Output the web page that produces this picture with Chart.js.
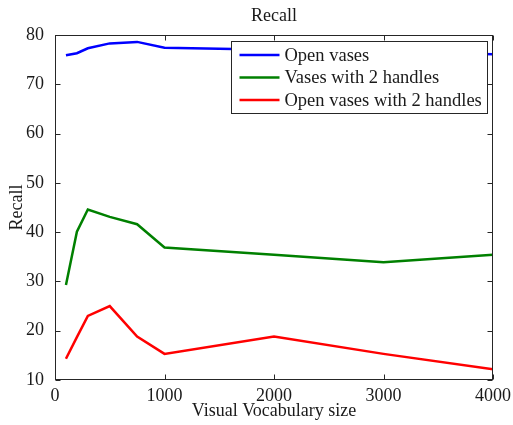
<!DOCTYPE html>
<html>
<head>
<meta charset="utf-8">
<script src="https://cdn.jsdelivr.net/npm/chart.js@4"></script>
<style>
  html, body { margin: 0; padding: 0; background: #fff; }
  #wrap { width: 513px; height: 425px; }
</style>
</head>
<body>
<div id="wrap"><canvas id="recallChart" width="513" height="425"></canvas></div>
<script>
// vocabulary sizes and recall per class
const vocabSizes = [100, 200, 300, 500, 750, 1000, 2000, 3000, 4000];
const openVases = [75.9, 76.3, 77.3, 78.3, 78.6, 77.4, 77.0, 76.6, 76.1];
const vasesTwoHandles = [29.3, 40.1, 44.6, 43.1, 41.6, 36.9, 35.4, 33.9, 35.4];
const openVasesTwoHandles = [14.3, 18.7, 23.0, 25.0, 18.8, 15.3, 18.8, 15.3, 12.2];
const seriesNames = ['Open vases', 'Vases with 2 handles', 'Open vases with 2 handles'];
const seriesColors = ['#0000ff', '#008000', '#ff0000'];
const chartTitle = 'Recall';

const FONT = '"Liberation Serif", "Times New Roman", serif';
const INK = '#1a1a1a';

function toPoints(values) {
    return vocabSizes.map((v, i) => ({x: v, y: values[i]}));
}

// matlab-ish box with inward ticks, title over the axes, boxed legend top right
const matlabFrame = {
    id: 'matlabFrame',
    afterDraw(chart) {
        const ctx = chart.ctx;
        const a = chart.chartArea;
        const xs = chart.scales.x, ys = chart.scales.y;
        const L = Math.round(a.left) + 0.5, R = Math.round(a.right) - 0.5;
        const T = Math.round(a.top) + 0.5, B = Math.round(a.bottom) - 0.5;
        ctx.save();
        ctx.strokeStyle = '#262626';
        ctx.lineWidth = 1;
        ctx.strokeRect(L, T, R - L, B - T);
        ctx.beginPath();
        xs.ticks.forEach(t => {
            const px = Math.round(xs.getPixelForValue(t.value)) + 0.5;
            ctx.moveTo(px, B); ctx.lineTo(px, B - 5);
            ctx.moveTo(px, T); ctx.lineTo(px, T + 5);
        });
        ys.ticks.forEach(t => {
            const py = Math.round(ys.getPixelForValue(t.value)) + 0.5;
            ctx.moveTo(L, py); ctx.lineTo(L + 5, py);
            ctx.moveTo(R, py); ctx.lineTo(R - 5, py);
        });
        ctx.stroke();

        // title, centred on the axes box
        ctx.font = '18px ' + FONT;
        ctx.fillStyle = INK;
        ctx.textAlign = 'center';
        ctx.textBaseline = 'middle';
        ctx.fillText(chartTitle, (a.left + a.right) / 2, 16);

        // legend
        ctx.font = '18.5px ' + FONT;
        ctx.textAlign = 'left';
        const sets = chart.data.datasets;
        const textW = Math.max(...sets.map(d => ctx.measureText(d.label).width));
        const boxW = Math.round(53 + textW + 6);
        const boxH = 72;
        const bx = Math.round(a.right - 6 - boxW) + 0.5;
        const by = Math.round(a.top + 6) + 0.5;
        ctx.fillStyle = '#fff';
        ctx.fillRect(bx, by, boxW, boxH);
        ctx.strokeStyle = '#262626';
        ctx.lineWidth = 1;
        ctx.strokeRect(bx, by, boxW, boxH);
        sets.forEach((d, i) => {
            const cy = by + 13.5 + i * 22.5;
            ctx.strokeStyle = d.borderColor;
            ctx.lineWidth = 2.5;
            ctx.beginPath();
            ctx.moveTo(bx + 8, cy);
            ctx.lineTo(bx + 48, cy);
            ctx.stroke();
            ctx.fillStyle = INK;
            ctx.fillText(d.label, bx + 53, cy + 1);
        });
        ctx.restore();
    }
};

const ctx = document.getElementById('recallChart').getContext('2d');
new Chart(ctx, {
    type: 'line',
    data: {
        datasets: [openVases, vasesTwoHandles, openVasesTwoHandles].map((vals, i) => ({
            label: seriesNames[i],
            data: toPoints(vals),
            borderColor: seriesColors[i],
            backgroundColor: seriesColors[i],
            borderWidth: 2.5,
            pointRadius: 0,
            tension: 0,
            fill: false
        }))
    },
    options: {
        responsive: false,
        animation: false,
        layout: { padding: { left: 0, right: 20, top: 35, bottom: 0 } },
        plugins: {
            legend: { display: false },
            tooltip: { enabled: false },
            title: { display: false }
        },
        scales: {
            x: {
                type: 'linear',
                min: 0,
                max: 4000,
                grid: { display: false },
                border: { display: false },
                ticks: { stepSize: 1000, color: INK, padding: -3, maxRotation: 0,
                         callback: v => String(v),
                         font: { family: FONT, size: 18 } },
                title: { display: true, text: 'Visual Vocabulary size', color: INK,
                         font: { family: FONT, size: 18 }, padding: { top: 0, bottom: 3 } },
                afterFit(scale) { scale.height = 45; }
            },
            y: {
                min: 10,
                max: 80,
                grid: { display: false },
                border: { display: false },
                ticks: { stepSize: 10, color: INK, padding: 3,
                         font: { family: FONT, size: 18 } },
                title: { display: true, text: 'Recall', color: INK,
                         font: { family: FONT, size: 18 }, padding: { top: 6, bottom: 0 } },
                afterFit(scale) { scale.width = 55; }
            }
        }
    },
    plugins: [matlabFrame]
});
</script>
</body>
</html>
